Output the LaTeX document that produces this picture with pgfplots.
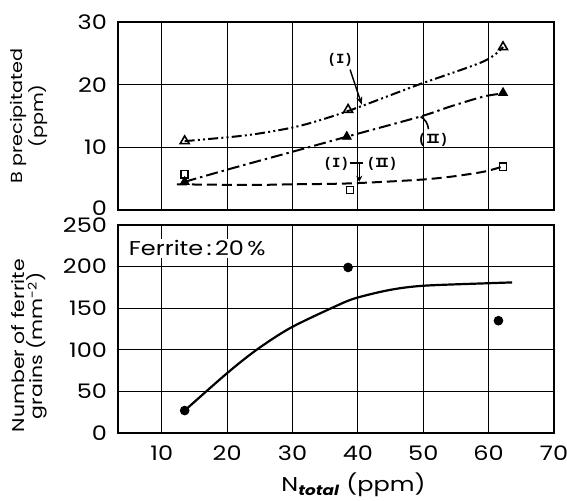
\documentclass[border=0pt]{standalone}
\usepackage{fontspec}
\setmainfont{Poppins}[FakeStretch=1.2]
\newfontfamily\monof{Liberation Mono}
\usepackage{pgfplots}
\pgfplotsset{compat=1.18}
\usetikzlibrary{arrows.meta}

\pgfplotsset{
  panel/.style={
    scale only axis, width=218pt,
    xmin=3.3, xmax=70,
    grid=major,
    major grid style={black, line width=0.55pt},
    axis line style={line width=1.1pt},
    major tick length=0pt,
    tick label style={font=\fontsize{10}{11}\selectfont},
    /pgf/number format/assume math mode=true,
    yticklabel style={xshift=-2pt},
    xticklabel style={yshift=-3pt},
  },
  ser/.style={black, line width=1pt},
}
\newcommand{\rn}[1]{{\monof\bfseries\fontsize{7}{7}\selectfont(#1)}}

\begin{document}
\begin{tikzpicture}
\path[use as bounding box] (0,0) rectangle (283.5pt,-250pt);

% upper panel: B precipitated
\begin{axis}[panel, at={(59pt,-105pt)}, anchor=south west, height=94pt,
  ymin=0, ymax=30, ytick={0,10,20,30}, yticklabels={\raisebox{2pt}{0},10,20,30},
  xtick={10,20,...,60}, xticklabels={},
  ylabel={B precipitated\\(ppm)},
  ylabel style={align=center, font=\fontsize{8}{5}\selectfont,
    at={(axis description cs:-0.204,0.5)}, anchor=center}]
% curves
\addplot[ser, smooth, dash pattern=on 5pt off 1.6pt on 1pt off 1.6pt on 1pt off 1.6pt] coordinates {
  (13.5,11) (15.8,11.2) (23.5,12) (31,13.4) (38.5,15.8) (49,19.9) (59.2,23.7) (62.2,26)};
\addplot[ser, smooth, dash pattern=on 6pt off 2pt on 1.2pt off 2pt] coordinates {
  (13.5,4.5) (20.9,6.7) (30,9.3) (38.3,11.7) (49.5,14.9) (54.1,16.5) (59.2,18.1) (62.2,18.6)};
\addplot[ser, smooth, dash pattern=on 5pt off 2.5pt] coordinates {
  (12.3,4.1) (23.5,4.0) (30,4.1) (38.8,4.25) (49,4.8) (54.1,5.3) (59.2,6.1) (62,6.9)};
% markers
\addplot[only marks, mark=triangle, mark size=2.6pt, mark options={black, fill=white, line width=0.8pt}]
  coordinates {(13.5,11) (38.5,16) (62.2,26)};
\addplot[only marks, mark=triangle*, mark size=2.6pt, mark options={black, fill=black}]
  coordinates {(13.5,4.5) (38.3,11.7) (62.2,18.7)};
\addplot[only marks, mark=square, mark size=1.8pt, mark options={black, fill=white, line width=0.8pt}]
  coordinates {(13.5,5.7) (38.8,3.2) (62.2,6.9)};
% annotations
\node at (axis cs:37.3,23.9) {\rn{I}};
\draw[line width=0.7pt, -{Stealth[length=4pt, width=3pt]}] (axis cs:38.8,22.4) -- (axis cs:40.6,16.8);
\node at (axis cs:51.5,11.2) {\rn{I\kern-0.22em I}};
\draw[line width=0.8pt] (axis cs:50.8,12.9) to[bend right=25] (axis cs:49.6,14.9);
\node at (axis cs:36.7,7.3) {\rn{I}};
\node at (axis cs:43.7,7.3) {\rn{I\kern-0.22em I}};
\draw[line width=0.7pt] (axis cs:38.8,7.5) -- (axis cs:40.8,7.5);
\draw[line width=0.7pt, -{Stealth[length=3pt, width=3pt]}] (axis cs:40.2,7.5) -- (axis cs:40.2,4.5);
\end{axis}

% lower panel: number of ferrite grains
\begin{axis}[panel, at={(59pt,-216.5pt)}, anchor=south west, height=104pt,
  ymin=0, ymax=250, ytick={0,50,...,250}, yticklabels={0,50,100,150,200,\raisebox{-1.5pt}{250}},
  xtick={10,20,...,70},
  ylabel={Number of ferrite\\grains (mm\textsuperscript{-2})},
  ylabel style={align=center, font=\fontsize{8.5}{7.5}\selectfont,
    at={(axis description cs:-0.204,0.42)}, anchor=center},
  xlabel={N\textsubscript{\itshape\bfseries total} (ppm)},
  xlabel style={font=\fontsize{10}{12}\selectfont,
    at={(axis description cs:0.54,-0.25)}, anchor=center}]
\addplot[black, line width=1.1pt, smooth] coordinates {
  (13.5,27) (20,72) (24.5,100) (29.6,126) (36.2,151) (39.6,162) (44.9,172) (50,177) (59.8,180) (63.6,181)};
\addplot[only marks, mark=*, mark size=2.2pt, mark options={black}]
  coordinates {(13.5,27) (38.5,199) (61.5,135)};
\node[anchor=west, font=\fontsize{10}{11}\selectfont, fill=white, inner sep=1pt] at (axis cs:4.6,222) {Ferrite\,:\,20\,\%};
\end{axis}
\end{tikzpicture}
\end{document}
